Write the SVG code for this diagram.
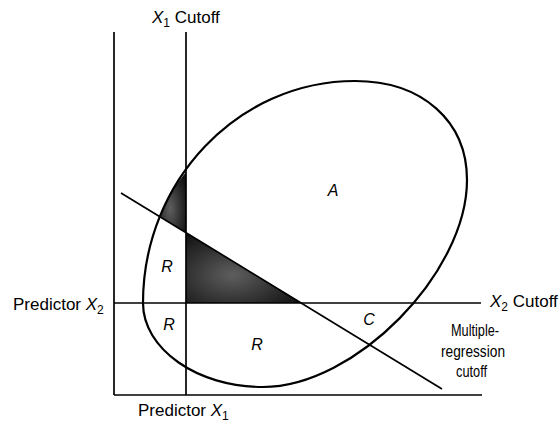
<svg xmlns="http://www.w3.org/2000/svg" width="559" height="422" viewBox="0 0 559 422">
  <defs>
    <radialGradient id="shade" cx="0.4" cy="0.6" r="0.7">
      <stop offset="0" stop-color="#5e5e5e"/>
      <stop offset="0.6" stop-color="#2e2e2e"/>
      <stop offset="1" stop-color="#111"/>
    </radialGradient>
  </defs>
  <style>
    .ln { fill: none; stroke: #000; stroke-width: 1.7; }
    .ell { fill: none; stroke: #000; stroke-width: 2.2; }
    .lbl { font-family: "Liberation Sans", Arial, sans-serif; font-size: 17px; fill: #000; }
    .sm { font-family: "Liberation Sans", Arial, sans-serif; font-size: 16px; fill: #000; }
    .let { font-family: "Liberation Sans", Arial, sans-serif; font-size: 16px; font-style: italic; fill: #000; }
    .it { font-style: italic; }
    .sub { font-size: 12px; font-style: normal; }
  </style>
  <rect width="559" height="422" fill="#fff"/>

  <g id="shaded-regions">
    <path d="M159.7,216.8 Q168.4,193 186,172 L186,233 Z" fill="url(#shade)"/>
    <path d="M186,233 L302,303 L186,303 Z" fill="url(#shade)"/>
  </g>

  <g id="connectors">
    <line class="ln" x1="114" y1="32" x2="114" y2="395"/>
    <line class="ln" x1="114" y1="395" x2="482" y2="395"/>
    <line class="ln" x1="186" y1="32" x2="186" y2="395"/>
    <line class="ln" x1="114" y1="303" x2="481" y2="303"/>
    <line class="ln" x1="121" y1="193" x2="442" y2="389"/>
  </g>

  <g id="ellipse">
    <path class="ell" d="M143,303 C143,181 238,81 355,81 C422,81 467,121 467,180 C467,273 355,387 263,387 C197,387 143,349 143,303 Z"/>
  </g>

  <g id="labels">
    <text class="lbl" x="152" y="23"><tspan class="it">X</tspan><tspan class="sub" dy="4">1</tspan><tspan dy="-4"> Cutoff</tspan></text>
    <text class="lbl" x="13" y="310">Predictor <tspan class="it">X</tspan><tspan class="sub" dy="4">2</tspan></text>
    <text class="lbl" x="138" y="416">Predictor <tspan class="it">X</tspan><tspan class="sub" dy="4">1</tspan></text>
    <text class="lbl" x="490" y="307"><tspan class="it">X</tspan><tspan class="sub" dy="4">2</tspan><tspan dy="-4"> Cutoff</tspan></text>
    <text class="sm" x="451" y="336" textLength="48" lengthAdjust="spacingAndGlyphs">Multiple-</text>
    <text class="sm" x="441" y="357" textLength="64" lengthAdjust="spacingAndGlyphs">regression</text>
    <text class="sm" x="456" y="377" textLength="31" lengthAdjust="spacingAndGlyphs">cutoff</text>
    <text class="let" x="333" y="196" text-anchor="middle">A</text>
    <text class="let" x="167" y="272" text-anchor="middle">R</text>
    <text class="let" x="169" y="330" text-anchor="middle">R</text>
    <text class="let" x="257" y="350" text-anchor="middle">R</text>
    <text class="let" x="369" y="325" text-anchor="middle">C</text>
  </g>
</svg>
